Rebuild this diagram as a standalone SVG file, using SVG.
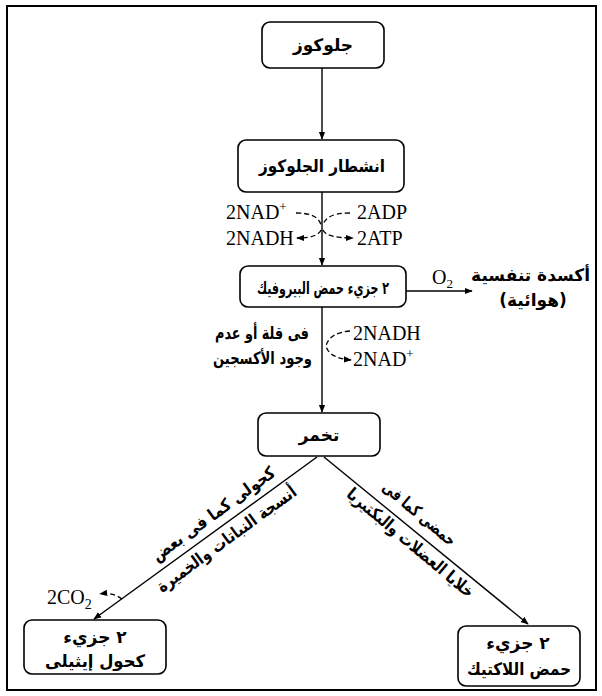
<svg xmlns="http://www.w3.org/2000/svg" width="602" height="696" viewBox="0 0 602 696">
<style>
.box{fill:#fff;stroke:#000;stroke-width:1.6}
.ar{font-family:"DejaVu Sans",sans-serif;font-weight:bold;font-size:17px;fill:#000}
.lat{font-family:"Liberation Serif",serif;font-size:20px;fill:#000}
.ln{stroke:#000;stroke-width:1.4;fill:none}
.dash{stroke:#000;stroke-width:1.3;fill:none;stroke-dasharray:5 3}
</style>
<defs>
<marker id="ah" viewBox="0 0 10 10" refX="9" refY="5" markerWidth="8" markerHeight="8" markerUnits="userSpaceOnUse" orient="auto">
<path d="M0,1 L10,5 L0,9 z" fill="#000"/>
</marker>
</defs>
<rect x="7" y="6" width="589" height="684" fill="#fff" stroke="#000" stroke-width="2"/>

<g id="connectors">
<line class="ln" x1="322" y1="68" x2="322" y2="139" marker-end="url(#ah)"/>
<line class="ln" x1="322" y1="192" x2="322" y2="265" marker-end="url(#ah)"/>
<path class="dash" d="M296 213 Q318 213 321 225"/>
<path class="dash" d="M350 213 Q326 213 323 225"/>
<path class="dash" d="M321 230 Q318 238 297 238" marker-end="url(#ah)"/>
<path class="dash" d="M323 230 Q326 238 353 238" marker-end="url(#ah)"/>
<line class="ln" x1="406" y1="291" x2="472" y2="291" marker-end="url(#ah)"/>
<line class="ln" x1="322" y1="307" x2="322" y2="412" marker-end="url(#ah)"/>
<path class="dash" d="M350 331 Q329 333 326 346 Q329 358 351 360" marker-end="url(#ah)"/>
<line class="ln" x1="317" y1="457" x2="94" y2="619" marker-end="url(#ah)"/>
<line class="ln" x1="324" y1="457" x2="528" y2="624" marker-end="url(#ah)"/>
<path class="dash" d="M122 599 Q113 592 100 594" marker-end="url(#ah)"/>
</g>

<g id="glucose">
<rect class="box" x="262" y="22" width="122" height="46" rx="8"/>
<text class="ar" x="323" y="51" text-anchor="middle">جلوكوز</text>
</g>
<g id="glycolysis">
<rect class="box" x="238" y="140" width="166" height="52" rx="8"/>
<text class="ar" x="385" y="172" text-anchor="end" textLength="126" lengthAdjust="spacingAndGlyphs">انشطار الجلوكوز</text>
</g>
<g id="glycolysis-labels">
<text class="lat" x="226" y="219">2NAD<tspan dy="-8" font-size="13">+</tspan></text>
<text class="lat" x="357" y="219">2ADP</text>
<text class="lat" x="226" y="245">2NADH</text>
<text class="lat" x="357" y="245">2ATP</text>
</g>
<g id="pyruvic">
<rect class="box" x="240" y="266" width="166" height="41" rx="8"/>
<text class="ar" x="389" y="294" text-anchor="end" font-size="18" textLength="132" lengthAdjust="spacingAndGlyphs">٢ جزيء حمض البيروفيك</text>
</g>
<g id="aerobic">
<text class="lat" x="432" y="284" font-size="18">O<tspan dy="4" font-size="13">2</tspan></text>
<text class="ar" x="590" y="281" text-anchor="end" font-size="16">أكسدة تنفسية</text>
<text class="ar" x="533" y="306" text-anchor="middle" font-size="16">(هوائية)</text>
</g>
<g id="anaerobic-labels">
<text class="ar" x="309" y="339" text-anchor="end" font-size="16" textLength="94" lengthAdjust="spacingAndGlyphs">فى قلة أو عدم</text>
<text class="ar" x="312" y="364" text-anchor="end" font-size="16" textLength="99" lengthAdjust="spacingAndGlyphs">وجود الأكسجين</text>
<text class="lat" x="353" y="340">2NADH</text>
<text class="lat" x="353" y="366">2NAD<tspan dy="-8" font-size="13">+</tspan></text>
</g>
<g id="fermentation">
<rect class="box" x="258" y="413" width="122" height="43" rx="8"/>
<text class="ar" x="319" y="441" text-anchor="middle">تخمر</text>
</g>
<g id="alcohol-labels">
<g transform="translate(222,526) rotate(-36)">
<text class="ar" x="74" y="-9" text-anchor="end" font-size="15" textLength="148" lengthAdjust="spacingAndGlyphs">كحولى كما فى بعض</text>
<text class="ar" x="80" y="19" text-anchor="end" font-size="15" textLength="168" lengthAdjust="spacingAndGlyphs">أنسجة النباتات والخميرة</text>
</g>
<text class="lat" x="47" y="604">2CO<tspan dy="5" font-size="14">2</tspan></text>
</g>
<g id="lactic-labels">
<g transform="translate(416,530) rotate(40)">
<text class="ar" x="37" y="-9" text-anchor="end" font-size="15" textLength="90" lengthAdjust="spacingAndGlyphs">حمضى كما فى</text>
<text class="ar" x="84" y="19" text-anchor="end" font-size="15" textLength="160" lengthAdjust="spacingAndGlyphs">خلايا العضلات والبكتيريا</text>
</g>
</g>
<g id="ethanol">
<rect class="box" x="24" y="620" width="142" height="54" rx="8"/>
<text class="ar" x="95" y="643" text-anchor="middle">٢ جزيء</text>
<text class="ar" x="145" y="667" text-anchor="end" textLength="100" lengthAdjust="spacingAndGlyphs">كحول إيثيلى</text>
</g>
<g id="lactic">
<rect class="box" x="458" y="626" width="122" height="60" rx="8"/>
<text class="ar" x="518" y="649" text-anchor="middle">٢ جزيء</text>
<text class="ar" x="571" y="675" text-anchor="end" textLength="104" lengthAdjust="spacingAndGlyphs">حمض اللاكتيك</text>
</g>
</svg>
